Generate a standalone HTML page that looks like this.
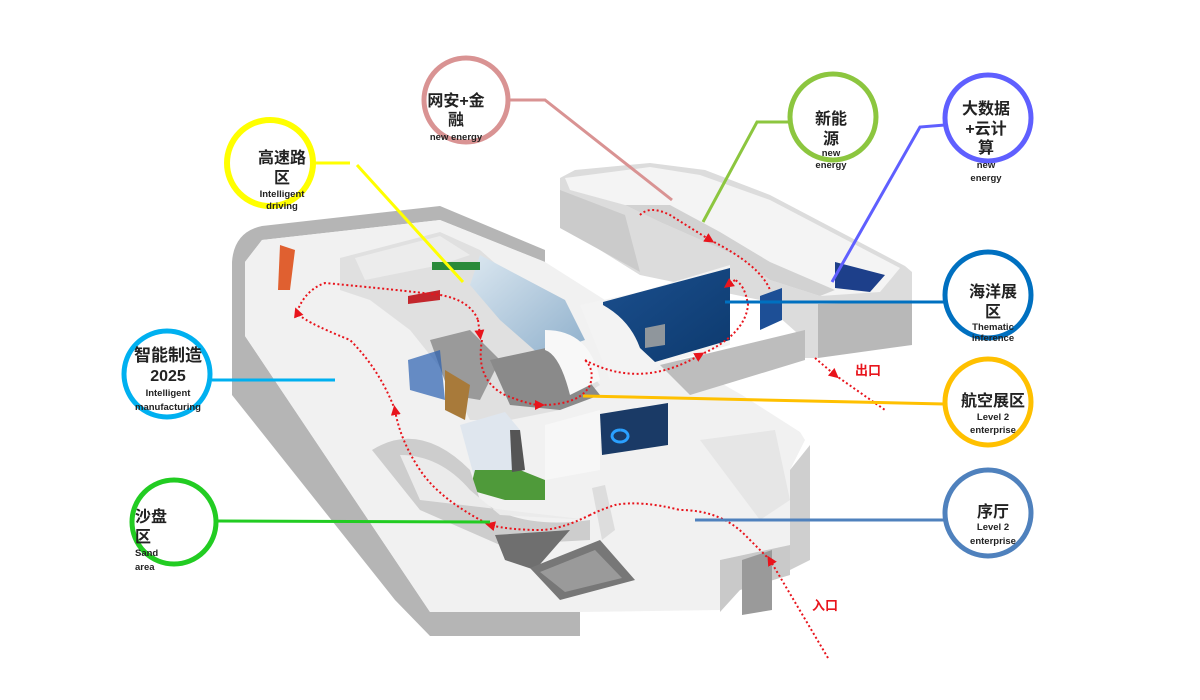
<!DOCTYPE html>
<html><head><meta charset="utf-8"><style>
html,body{margin:0;padding:0;background:#fff;}
svg{display:block}
.t{font-family:"Liberation Sans","Noto Sans CJK SC",sans-serif;font-weight:bold;fill:#222;text-anchor:middle}
.e{font-family:"Liberation Sans",sans-serif;font-weight:bold;fill:#222;text-anchor:middle;font-size:9.5px}
.p{fill:none;stroke:#e8141c;stroke-width:2;stroke-dasharray:2 2.5}
</style></head><body>
<svg width="1200" height="700" viewBox="0 0 1200 700" xmlns="http://www.w3.org/2000/svg">
<defs>
<marker id="a" viewBox="0 0 10 10" refX="5" refY="5" markerWidth="5" markerHeight="5" orient="auto"><path d="M0,0L10,5L0,10z" fill="#e8141c"/></marker>
<linearGradient id="sky" x1="0" y1="0" x2="1" y2="1"><stop offset="0" stop-color="#dbe7f0"/><stop offset="1" stop-color="#8fb0cc"/></linearGradient>
<linearGradient id="sea" x1="0" y1="0" x2="1" y2="1"><stop offset="0" stop-color="#1b4f8e"/><stop offset="1" stop-color="#0d3a6e"/></linearGradient>
</defs>

<!-- right upper wing -->
<path d="M560,178 L575,170 L650,163 L705,170 L770,195 L905,266 L912,272 L912,302 L860,304 L818,304 L818,358 L805,358 L805,340 L760,300 L640,275 L560,225 Z" fill="#dcdcdc"/>
<path d="M565,178 L650,167 L700,175 L770,200 L900,268 L880,292 L820,296 L770,280 L735,255 L660,222 L625,205 L570,190 Z" fill="#f4f4f4"/>
<path d="M625,205 L660,222 L735,255 L770,280 L820,296 L835,290 L770,262 L720,232 L670,205 Z" fill="#d2d2d2"/>
<path d="M835,262 L885,275 L870,292 L835,288 Z" fill="#1d3f8a"/>
<path d="M818,304 L912,302 L912,345 L818,358 Z" fill="#b8b8b8"/>
<path d="M560,190 L625,215 L640,272 L560,228 Z" fill="#cbcbcb"/>
<!-- main building side wall -->
<path d="M232,262 Q234,232 262,226 L440,206 L545,250 L545,262 L440,220 L262,240 L245,262 L245,336 L430,612 L580,612 L580,636 L430,636 L395,600 L232,395 Z" fill="#b5b5b5"/>
<!-- main floor -->
<path d="M245,262 L262,240 L440,220 L545,262 L605,300 L645,325 L680,360 L742,395 L800,432 L805,440 L790,470 L790,545 L720,560 L720,610 L580,612 L430,612 L245,336 Z" fill="#f1f1f1"/>
<path d="M790,470 L810,445 L810,560 L790,570 Z" fill="#cfcfcf"/>
<path d="M720,560 L790,545 L790,575 L740,590 L720,612 Z" fill="#c9c9c9"/>
<path d="M742,560 L772,550 L772,610 L742,615 Z" fill="#9a9a9a"/>
<!-- central island -->
<path d="M340,258 L440,232 L480,250 L520,285 L560,325 L580,360 L600,385 L560,410 L510,420 L470,420 L450,380 L410,330 L370,300 L340,290 Z" fill="#e0e0e0"/>
<path d="M355,258 L440,236 L470,255 L440,265 L365,280 Z" fill="#ececec"/>
<path d="M480,255 L565,300 L585,340 L540,355 L500,320 L470,285 Z" fill="url(#sky)"/>
<path d="M430,340 L470,330 L500,360 L480,400 L450,395 Z" fill="#9a9a9a"/>
<path d="M490,360 L560,345 L600,395 L560,410 L510,405 Z" fill="#8a8a8a"/>
<path d="M545,330 Q590,330 600,380 L570,395 Q560,355 545,350 Z" fill="#f8f8f8"/>
<path d="M408,296 L440,290 L440,300 L408,304 Z" fill="#c3262c"/>
<path d="M432,262 L480,262 L480,270 L432,270 Z" fill="#2a8a3a"/>
<path d="M408,360 L440,350 L445,400 L410,390 Z" fill="#2a5fb0" opacity=".7"/>
<path d="M445,370 L470,385 L465,420 L445,410 Z" fill="#a87a3a"/>
<path d="M280,245 L295,250 L290,290 L278,290 Z" fill="#e06030"/>
<!-- ocean -->
<path d="M580,305 L640,292 L730,265 L730,345 L660,365 L640,380 L610,380 Z" fill="#f3f3f3"/>
<path d="M603,302 L730,268 L730,340 L655,362 L640,348 Q630,320 603,305 Z" fill="url(#sea)"/>
<path d="M760,296 L782,288 L782,320 L760,330 Z" fill="#1d4f96"/>
<path d="M660,365 L805,330 L805,360 L690,395 Z" fill="#bdbdbd"/>
<path d="M645,328 L665,324 L665,345 L645,348 Z" fill="#8f969c"/>
<!-- lower hall -->
<path d="M460,425 L505,412 L520,430 L525,490 L475,480 Z" fill="#dfe6ee"/>
<path d="M475,470 L520,470 L545,480 L545,500 L505,500 L470,490 Z" fill="#4f9a3a"/>
<path d="M510,430 L520,430 L525,470 L512,472 Z" fill="#555"/>
<path d="M545,425 L600,410 L600,470 L545,480 Z" fill="#f7f7f7"/>
<path d="M600,414 L668,403 L668,445 L602,455 Z" fill="#1a3a66"/>
<path d="M620,430 a8,6 0 1 0 .1,0" fill="none" stroke="#2aa0ff" stroke-width="3"/>
<path d="M372,450 Q420,420 470,470 L480,500 Q520,530 590,520 L590,540 L500,545 L420,510 Z" fill="#cdcdcd"/>
<path d="M400,455 Q440,455 470,490 L500,515 L590,520 L420,500 Z" fill="#ebebeb"/>
<path d="M592,488 L605,485 L615,530 L602,540 Z" fill="#ddd"/>
<path d="M495,535 L570,530 L535,570 L505,560 Z" fill="#6f6f6f"/>
<path d="M530,568 L600,540 L635,580 L560,600 Z" fill="#777"/>
<path d="M540,572 L595,550 L622,578 L565,592 Z" fill="#9a9a9a"/>
<path d="M700,440 L775,430 L790,500 L760,520 L730,480 Z" fill="#e6e6e6"/>

<!-- red paths -->
<path class="p" d="M828,658 L770,560" marker-end="url(#a)"/>
<path class="p" d="M770,560 L745,535 Q720,510 680,510 Q640,500 615,505 Q600,510 590,515"/>
<path class="p" d="M590,515 Q560,530 540,530 Q510,530 490,525" marker-end="url(#a)"/>
<path class="p" d="M490,525 Q440,500 420,470 Q400,440 395,410" marker-end="url(#a)"/>
<path class="p" d="M395,410 Q380,370 350,340 Q300,320 297,312" marker-end="url(#a)"/>
<path class="p" d="M297,312 Q305,290 325,283 Q400,290 440,295 Q470,300 478,320" />
<path class="p" d="M478,320 L480,335" marker-end="url(#a)"/>
<path class="p" d="M482,340 Q475,380 505,395 Q530,405 540,405" marker-end="url(#a)"/>
<path class="p" d="M540,405 Q580,405 590,385 Q595,370 585,360"/>
<path class="p" d="M585,360 Q640,390 700,355" marker-end="url(#a)"/>
<path class="p" d="M700,355 Q745,335 748,305 Q745,285 735,280"/>
<path class="p" d="M735,280 L728,285" marker-end="url(#a)"/>
<path class="p" d="M640,215 Q650,205 670,215 L710,240" marker-end="url(#a)"/>
<path class="p" d="M710,240 Q760,265 770,290"/>
<path class="p" d="M815,358 L835,375" marker-end="url(#a)"/>
<path class="p" d="M835,375 L885,410"/>
<text x="855" y="375" font-family="Liberation Sans,Noto Sans CJK SC,sans-serif" font-size="13" font-weight="bold" fill="#e8141c">出口</text>
<text x="812" y="610" font-family="Liberation Sans,Noto Sans CJK SC,sans-serif" font-size="13" font-weight="bold" fill="#e8141c">入口</text>

<!-- connector lines -->
<g fill="none" stroke-width="3">
<polyline points="510,100 545,100 672,200" stroke="#d99393"/>
<polyline points="314,163 350,163" stroke="#ffff00"/>
<polyline points="357,165 463,282" stroke="#ffff00"/>
<polyline points="790,122 757,122 703,222" stroke="#8cc63f"/>
<polyline points="945,125 920,127 832,282" stroke="#5f5fff"/>
<polyline points="725,302 944,302" stroke="#0070c0"/>
<polyline points="583,396 944,404" stroke="#ffc000"/>
<polyline points="695,520 944,520" stroke="#4f81bd"/>
<polyline points="212,380 335,380" stroke="#00b0f0"/>
<polyline points="218,521 490,522" stroke="#22cc22"/>
</g>
<!-- circles -->
<g fill="none" stroke-width="5">
<circle cx="466" cy="100" r="42" stroke="#d99393"/>
<circle cx="270" cy="163" r="43" stroke="#ffff00" stroke-width="6"/>
<circle cx="833" cy="117" r="43" stroke="#8cc63f"/>
<circle cx="988" cy="118" r="43" stroke="#5f5fff"/>
<circle cx="988" cy="295" r="43" stroke="#0070c0"/>
<circle cx="988" cy="402" r="43" stroke="#ffc000"/>
<circle cx="988" cy="513" r="43" stroke="#4f81bd"/>
<circle cx="167" cy="374" r="43" stroke="#00b0f0"/>
<circle cx="174" cy="522" r="42" stroke="#22cc22"/>
</g>
<!-- labels -->
<text class="t" font-size="16" x="456" y="106">网安+金</text>
<text class="t" font-size="16" x="456" y="125">融</text>
<text class="e" x="456" y="140">new energy</text>
<text class="t" font-size="16" x="282" y="163">高速路</text>
<text class="t" font-size="16" x="282" y="183">区</text>
<text class="e" x="282" y="197">Intelligent</text>
<text class="e" x="282" y="209">driving</text>
<text class="t" font-size="16" x="831" y="124">新能</text>
<text class="t" font-size="16" x="831" y="144">源</text>
<text class="e" x="831" y="156">new</text>
<text class="e" x="831" y="168">energy</text>
<text class="t" font-size="16" x="986" y="114">大数据</text>
<text class="t" font-size="16" x="986" y="134">+云计</text>
<text class="t" font-size="16" x="986" y="153">算</text>
<text class="e" x="986" y="168">new</text>
<text class="e" x="986" y="181">energy</text>
<text class="t" font-size="16" x="993" y="297">海洋展</text>
<text class="t" font-size="16" x="993" y="317">区</text>
<text class="e" x="993" y="330">Thematic</text>
<text class="e" x="993" y="341">inference</text>
<text class="t" font-size="16" x="993" y="406">航空展区</text>
<text class="e" x="993" y="420">Level 2</text>
<text class="e" x="993" y="433">enterprise</text>
<text class="t" font-size="16" x="993" y="517">序厅</text>
<text class="e" x="993" y="530">Level 2</text>
<text class="e" x="993" y="544">enterprise</text>
<text class="t" font-size="17" x="168" y="361">智能制造</text>
<text class="t" font-size="16" x="168" y="381">2025</text>
<text class="e" x="168" y="396">Intelligent</text>
<text class="e" x="168" y="410">manufacturing</text>
<text class="t" font-size="16" x="135" y="522" style="text-anchor:start">沙盘</text>
<text class="t" font-size="16" x="135" y="542" style="text-anchor:start">区</text>
<text class="e" x="135" y="556" style="text-anchor:start">Sand</text>
<text class="e" x="135" y="570" style="text-anchor:start">area</text>
</svg>
</body></html>
